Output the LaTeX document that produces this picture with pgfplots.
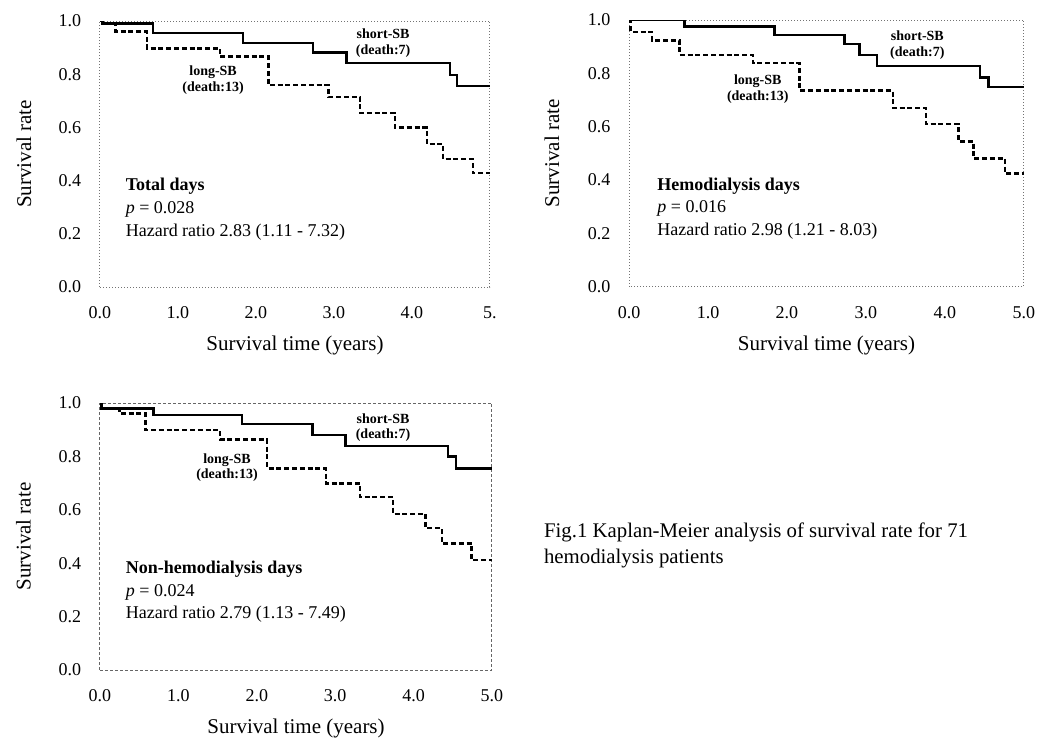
\documentclass[border=0pt]{standalone}
\usepackage{fontspec}
\setmainfont{Liberation Serif}
\usepackage{pgfplots}
\pgfplotsset{compat=1.18}

\pgfplotsset{
  kmaxis/.style={
    scale only axis, anchor=south west,
    xmin=0, xmax=5, ymin=0, ymax=1,
    xtick={0,1,2,3,4,5}, ytick={0,0.2,0.4,0.6,0.8,1},
    xticklabels={0.0,1.0,2.0,3.0,4.0,5.0},
    yticklabels={0.0,0.2,0.4,0.6,0.8,1.0},
    major tick length=0pt,
    axis line style={black!55, densely dotted, line width=0.5pt},
    tick label style={font=\fontsize{9}{10}\selectfont},
    xticklabel style={anchor=center, yshift=-13pt},
    yticklabel style={anchor=center, xshift=-15pt},
    label style={font=\fontsize{10.5}{12}\selectfont},
    xlabel={Survival time (years)},
    ylabel={Survival rate},
    every axis x label/.append style={at={(axis description cs:0.5,-0.22)}, anchor=center},
    every axis y label/.append style={at={(axis description cs:-0.195,0.5)}, anchor=center},
  },
  short/.style={black, line width=1.2pt, const plot, no marks},
  long/.style={black, line width=1.2pt, dash pattern=on 2.5pt off 1.4pt, const plot, no marks},
}
\newcommand{\grp}[2]{\node[font=\fontsize{7}{7.6}\selectfont\bfseries, align=center] at (axis cs:#1) {#2};}
\newcommand{\info}[4]{\node[anchor=north west, align=left, font=\fontsize{9}{11.3}\selectfont] at (axis cs:#1) {\textbf{#2}\\\textit{p} = #3\\Hazard ratio #4};}

\begin{document}
\begin{tikzpicture}
\useasboundingbox (0,0) rectangle (520.5pt,-373pt);

% Total days
\begin{axis}[kmaxis, at={(50pt,-143.5pt)}, width=195pt, height=133pt,
  xticklabels={0.0,1.0,2.0,3.0,4.0,5.}]
\addplot[short] coordinates {(0,1.0) (0.03,0.99) (0.68,0.954) (1.83,0.918) (2.73,0.881) (3.16,0.843) (4.49,0.797) (4.58,0.756) (5,0.756)};
\addplot[long] coordinates {(0,1.0) (0.03,0.99) (0.2,0.96) (0.60,0.897) (1.54,0.866) (2.16,0.759) (2.93,0.715) (3.33,0.654) (3.78,0.599) (4.19,0.538) (4.40,0.481) (4.78,0.428) (5,0.428)};
\grp{3.63,0.917}{short-SB\\(death:7)}
\grp{1.45,0.778}{long-SB\\(death:13)}
\info{0.24,0.435}{Total days}{0.028}{2.83 (1.11 - 7.32)}
\end{axis}

% Hemodialysis days
\begin{axis}[kmaxis, at={(314.5pt,-143.3pt)}, width=197.5pt, height=133.3pt]
\addplot[short] coordinates {(0,1.0) (0.70,0.975) (1.84,0.944) (2.73,0.91) (2.92,0.869) (3.14,0.828) (4.44,0.785) (4.55,0.748) (5,0.748)};
\addplot[long] coordinates {(0,1.0) (0.02,0.956) (0.29,0.923) (0.64,0.869) (1.57,0.838) (2.16,0.735) (3.34,0.669) (3.76,0.61) (4.17,0.544) (4.36,0.481) (4.76,0.425) (5,0.425)};
\grp{3.65,0.906}{short-SB\\(death:7)}
\grp{1.63,0.741}{long-SB\\(death:13)}
\info{0.27,0.435}{Hemodialysis days}{0.016}{2.98 (1.21 - 8.03)}
\end{axis}

% Non-hemodialysis days
\begin{axis}[kmaxis, at={(50pt,-335pt)}, width=196pt, height=133.5pt,
  axis line style={black!60, dashed, dash pattern=on 1.5pt off 1pt, line width=0.5pt}]
\addplot[short] coordinates {(0,1.0) (0.02,0.98) (0.68,0.955) (1.81,0.921) (2.71,0.88) (3.13,0.839) (4.44,0.799) (4.54,0.755) (5,0.755)};
\addplot[long] coordinates {(0,1.0) (0.02,0.98) (0.25,0.961) (0.58,0.899) (1.53,0.864) (2.13,0.755) (2.88,0.699) (3.32,0.647) (3.74,0.584) (4.15,0.531) (4.36,0.474) (4.74,0.412) (5,0.412)};
\grp{3.61,0.908}{short-SB\\(death:7)}
\grp{1.62,0.757}{long-SB\\(death:13)}
\info{0.24,0.435}{Non-hemodialysis days}{0.024}{2.79 (1.13 - 7.49)}
\end{axis}

\node[anchor=west, font=\fontsize{10.4}{12}\selectfont] at (268.5pt,-266pt) {Fig.1 Kaplan-Meier analysis of survival rate for 71};
\node[anchor=west, font=\fontsize{10.4}{12}\selectfont] at (268.5pt,-279.5pt) {hemodialysis patients};
\end{tikzpicture}
\end{document}
